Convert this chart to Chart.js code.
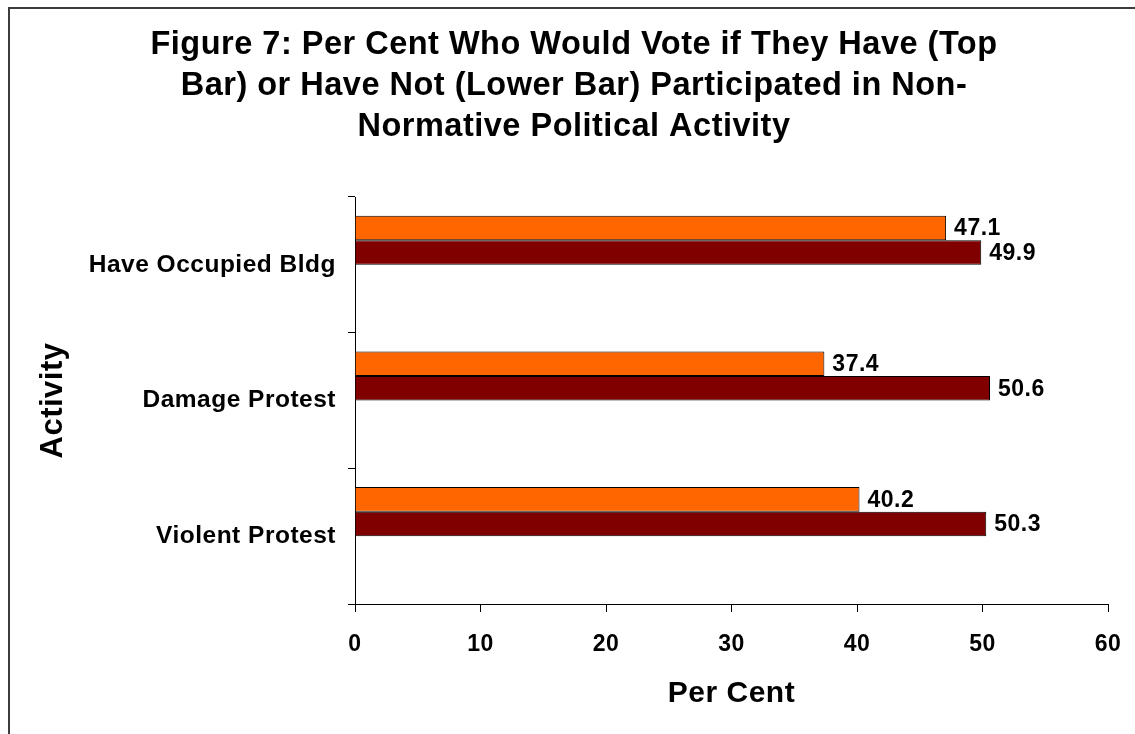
<!DOCTYPE html>
<html>
<head>
<meta charset="utf-8">
<title>Figure 7</title>
<script src="https://cdn.jsdelivr.net/npm/chart.js@4/dist/chart.umd.min.js"></script>
<style>
  html, body { margin: 0; padding: 0; background: #ffffff; }
  #wrap { width: 1135px; height: 734px; }
</style>
</head>
<body>
<div id="wrap"><canvas id="chart" width="1135" height="734"></canvas></div>
<script>
// Activities on the category axis, top to bottom
const categories = ['Have Occupied Bldg', 'Damage Protest', 'Violent Protest'];
// Per cent who would vote: participated (top bar) / not participated (lower bar)
const haveParticipated = [47.1, 37.4, 40.2];
const haveNotParticipated = [49.9, 50.6, 50.3];
// Value axis
const xMin = 0;
const xMax = 60;
const xStep = 10;

const titleLines = [
  'Figure 7: Per Cent Who Would Vote if They Have (Top',
  'Bar) or Have Not (Lower Bar) Participated in Non-',
  'Normative Political Activity'
];
const xTitle = 'Per Cent';
const yTitle = 'Activity';

const FAMILY = '"Liberation Sans", Arial, Helvetica, sans-serif';
const SPACING = '0.5px';

// Outer frame line (left and top edges) and letter spacing for all text
const framePlugin = {
  id: 'frame',
  beforeUpdate(chart) { chart.ctx.letterSpacing = SPACING; },
  beforeDraw(chart) {
    const ctx = chart.ctx;
    ctx.letterSpacing = SPACING;
    ctx.save();
    ctx.fillStyle = '#3c3c3c';
    ctx.fillRect(8, 7, 2, chart.height - 7);
    ctx.fillRect(8, 7, chart.width - 8, 2);
    ctx.restore();
  }
};

// Value labels to the right of each bar end
const valueLabels = {
  id: 'valueLabels',
  afterDatasetsDraw(chart) {
    const ctx = chart.ctx;
    ctx.save();
    ctx.font = 'bold 23px ' + FAMILY;
    ctx.fillStyle = '#000000';
    ctx.textAlign = 'left';
    ctx.textBaseline = 'middle';
    [0, 1].forEach(di => {
      const meta = chart.getDatasetMeta(di);
      const data = chart.data.datasets[di].data;
      meta.data.forEach((bar, i) => {
        if (data[i] == null) return;
        ctx.fillText(data[i].toFixed(1), bar.x + 8, bar.y + 1);
      });
    });
    ctx.restore();
  }
};

new Chart(document.getElementById('chart'), {
  type: 'bar',
  data: {
    labels: categories,
    datasets: [
      {
        label: 'Have participated',
        data: haveParticipated,
        backgroundColor: '#FF6600',
        borderColor: '#000000',
        borderWidth: 1
      },
      {
        label: 'Have not participated',
        data: haveNotParticipated,
        backgroundColor: '#800000',
        borderColor: '#000000',
        borderWidth: 1
      },
      // two empty series keep the bar pair in the upper part of each band
      { label: '', data: [null, null, null] },
      { label: '', data: [null, null, null] }
    ]
  },
  options: {
    indexAxis: 'y',
    responsive: false,
    animation: false,
    categoryPercentage: 0.723,
    barPercentage: 1.0,
    layout: { padding: { left: 40, right: 27, top: 0, bottom: 0 } },
    plugins: {
      legend: { display: false },
      tooltip: { enabled: false },
      title: {
        display: true,
        text: titleLines,
        color: '#000000',
        font: { family: FAMILY, size: 32.5, weight: 'bold', lineHeight: '41px' },
        padding: { top: 25, bottom: 49 }
      }
    },
    scales: {
      x: {
        type: 'linear',
        position: 'bottom',
        min: xMin,
        max: xMax,
        ticks: {
          stepSize: xStep,
          color: '#000000',
          font: { family: FAMILY, size: 23, weight: 'bold' },
          padding: 19,
          maxRotation: 0,
          minRotation: 0
        },
        grid: {
          drawOnChartArea: false,
          drawTicks: true,
          tickLength: 8,
          color: '#000000'
        },
        border: { display: true, color: '#000000', width: 1 },
        title: {
          display: true,
          text: xTitle,
          color: '#000000',
          font: { family: FAMILY, size: 30, weight: 'bold', lineHeight: 1.2 },
          padding: { top: 0, bottom: 22 }
        },
        afterFit(scale) {
          scale.height = 130;
          scale.paddingLeft = 0;
          scale.paddingRight = 0;
        }
      },
      y: {
        type: 'category',
        position: 'left',
        offset: true,
        ticks: {
          color: '#000000',
          font: { family: FAMILY, size: 24.5, weight: 'bold' },
          padding: 12
        },
        grid: {
          offset: true,
          drawOnChartArea: false,
          drawTicks: true,
          tickLength: 7,
          color: '#000000'
        },
        border: { display: true, color: '#000000', width: 1 },
        title: {
          display: true,
          text: yTitle,
          color: '#000000',
          font: { family: FAMILY, size: 31, weight: 'bold', lineHeight: 0.85 },
          padding: { top: 0, bottom: 0 }
        },
        afterFit(scale) { scale.width = 315; }
      }
    }
  },
  plugins: [framePlugin, valueLabels]
});
</script>
</body>
</html>
